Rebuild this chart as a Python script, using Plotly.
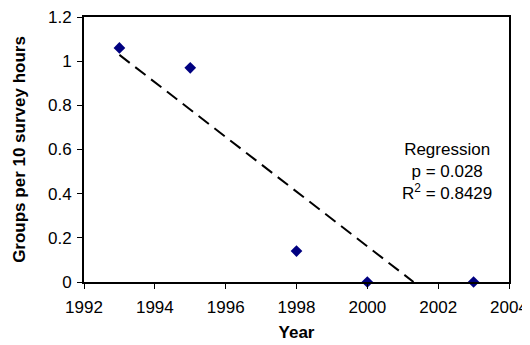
import numpy as np
import plotly.graph_objects as go

years = [1993, 1995, 1998, 2000, 2003]
groups = [1.06, 0.97, 0.14, 0.0, 0.0]
x_ticks = [1992, 1994, 1996, 1998, 2000, 2002, 2004]
y_ticks = [0, 0.2, 0.4, 0.6, 0.8, 1, 1.2]
y_tick_text = ["0", "0.2", "0.4", "0.6", "0.8", "1", "1.2"]
annot_lines = ["Regression", "p = 0.028", "R<sup>2</sup> = 0.8429"]

slope, intercept = np.polyfit(years, groups, 1)
x0 = years[0]
x1 = -intercept / slope
fit_x = [x0, x1]
fit_y = [slope * x0 + intercept, 0.0]

font = "Liberation Sans, Arial, sans-serif"
FS = 17

fig = go.Figure()
fig.add_trace(go.Scatter(x=fit_x, y=fit_y, mode="lines",
                         line=dict(color="black", width=2, dash="13px,7px"),
                         showlegend=False, hoverinfo="skip"))
fig.add_trace(go.Scatter(x=years, y=groups, mode="markers",
                         marker=dict(symbol="diamond", color="#000080", size=9,
                                     line=dict(width=0)),
                         showlegend=False, cliponaxis=False))

fig.add_annotation(x=2002.25, y=0.5, xref="x", yref="y",
                   text="<br>".join(annot_lines), showarrow=False,
                   align="center", font=dict(family=font, size=FS, color="black"))

# page body has an 8px margin, so the figure is offset by (8, 8)
fig.update_layout(
    width=522, height=337,
    margin=dict(l=76, r=21, t=9, b=63),
    paper_bgcolor="white", plot_bgcolor="white",
    font=dict(family=font, size=FS, color="black"),
)
fig.update_xaxes(range=[1992, 2004], tickvals=x_ticks, ticks="outside", ticklen=5,
                 tickcolor="black", tickwidth=1, showgrid=False, zeroline=False,
                 showline=True, linecolor="black", linewidth=2, mirror=True,
                 automargin=False, ticklabelstandoff=4, ticklabeloverflow="allow",
                 title=dict(text="<b>Year</b>", font=dict(size=FS), standoff=10))
fig.update_yaxes(range=[0, 1.2], tickvals=y_ticks, ticktext=y_tick_text,
                 ticks="outside", ticklen=5,
                 tickcolor="black", tickwidth=1, showgrid=False, zeroline=False,
                 showline=True, linecolor="black", linewidth=2, mirror=True,
                 automargin=False, ticklabelstandoff=2, ticklabeloverflow="allow",
                 title=dict(text="<b>Groups per 10 survey hours</b>", font=dict(size=FS),
                            standoff=18))

fig.write_html("out.html")
